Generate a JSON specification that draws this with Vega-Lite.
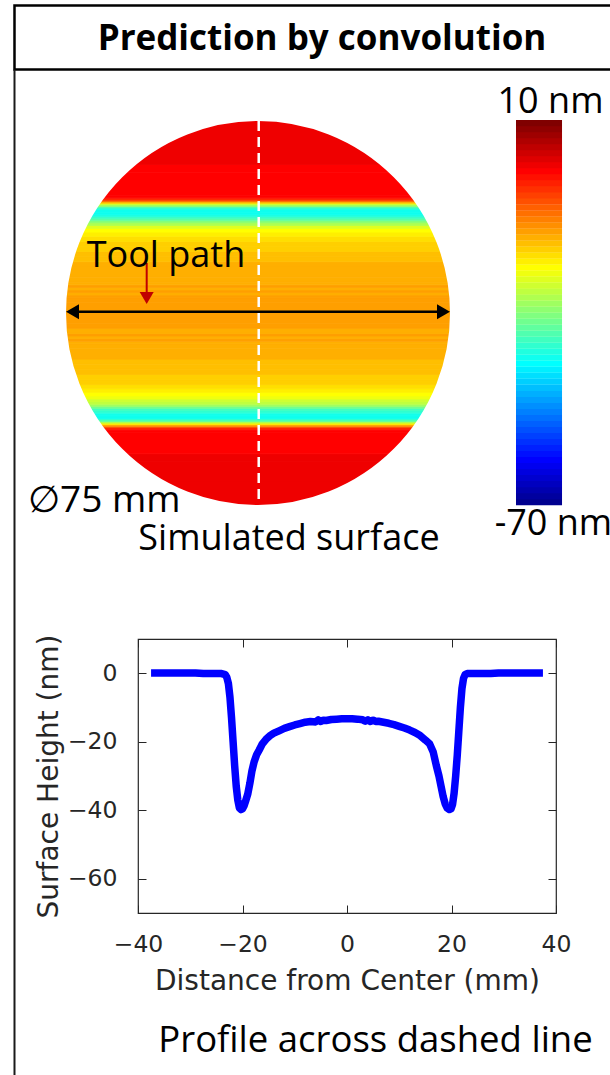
{
  "$schema": "https://vega.github.io/schema/vega-lite/v6.json",
  "autosize": {"type": "none"},
  "width": 418,
  "height": 274,
  "padding": {"left": 138, "top": 639, "right": 54, "bottom": 162},
  "background": "white",
  "config": {
    "view": {"stroke": "#262626", "strokeWidth": 1.2},
    "axis": {"grid": false}
  },
  "data": {"values": [{}]},
  "datasets": {
    "profile": [
      {"d": -37.5, "h": 0.1}, {"d": -33, "h": 0.1}, {"d": -29, "h": 0.1}, {"d": -27.5, "h": -0.1},
      {"d": -24, "h": -0.1}, {"d": -23.3, "h": -0.4}, {"d": -23.0, "h": -1.2}, {"d": -22.7, "h": -3},
      {"d": -22.4, "h": -7}, {"d": -22.1, "h": -13}, {"d": -21.8, "h": -20}, {"d": -21.5, "h": -27},
      {"d": -21.2, "h": -33}, {"d": -20.9, "h": -37}, {"d": -20.6, "h": -39.3}, {"d": -20.3, "h": -39.8},
      {"d": -20.0, "h": -39.6}, {"d": -19.7, "h": -38.7}, {"d": -19.4, "h": -37.3}, {"d": -19.0, "h": -35.3},
      {"d": -18.6, "h": -32.2}, {"d": -18.2, "h": -28.6}, {"d": -17.8, "h": -26}, {"d": -17.3, "h": -23.8},
      {"d": -16.8, "h": -22.4}, {"d": -16.2, "h": -20.6}, {"d": -15.5, "h": -19.3}, {"d": -14.8, "h": -18.3},
      {"d": -14, "h": -17.5}, {"d": -13, "h": -16.8}, {"d": -12, "h": -16.1}, {"d": -11, "h": -15.6},
      {"d": -10, "h": -15.1}, {"d": -9, "h": -14.7}, {"d": -8, "h": -14.3}, {"d": -7, "h": -14.1},
      {"d": -6, "h": -14.2}, {"d": -5.5, "h": -13.6}, {"d": -5, "h": -14.1}, {"d": -4.5, "h": -13.7},
      {"d": -4, "h": -13.8}, {"d": -3, "h": -13.5}, {"d": -2, "h": -13.4}, {"d": -1, "h": -13.3},
      {"d": 0, "h": -13.3}, {"d": 1, "h": -13.3}, {"d": 2, "h": -13.4}, {"d": 3, "h": -13.6},
      {"d": 3.5, "h": -14.0}, {"d": 4, "h": -13.6}, {"d": 4.5, "h": -14.1}, {"d": 5, "h": -13.7},
      {"d": 5.5, "h": -14.1}, {"d": 6, "h": -14.0}, {"d": 7, "h": -14.3}, {"d": 8, "h": -14.6},
      {"d": 9, "h": -15.0}, {"d": 10, "h": -15.5}, {"d": 11, "h": -16.0}, {"d": 12, "h": -16.6},
      {"d": 13, "h": -17.3}, {"d": 14, "h": -18.2}, {"d": 15, "h": -19.5}, {"d": 15.8, "h": -20.6},
      {"d": 16.5, "h": -23}, {"d": 17.1, "h": -27}, {"d": 17.6, "h": -30}, {"d": 18.0, "h": -33},
      {"d": 18.4, "h": -36}, {"d": 18.8, "h": -38.2}, {"d": 19.2, "h": -39.4}, {"d": 19.6, "h": -39.8},
      {"d": 19.9, "h": -39.6}, {"d": 20.2, "h": -38.3}, {"d": 20.5, "h": -35}, {"d": 20.8, "h": -30},
      {"d": 21.1, "h": -24}, {"d": 21.4, "h": -17}, {"d": 21.7, "h": -10}, {"d": 22.0, "h": -4.5},
      {"d": 22.3, "h": -1.5}, {"d": 22.6, "h": -0.4}, {"d": 23.0, "h": -0.1}, {"d": 27.5, "h": -0.1},
      {"d": 29, "h": 0.1}, {"d": 33, "h": 0.1}, {"d": 37.5, "h": 0.1}
    ],
    "levels": [
      {"level": -69.375}, {"level": -68.125}, {"level": -66.875}, {"level": -65.625},
      {"level": -64.375}, {"level": -63.125}, {"level": -61.875}, {"level": -60.625},
      {"level": -59.375}, {"level": -58.125}, {"level": -56.875}, {"level": -55.625},
      {"level": -54.375}, {"level": -53.125}, {"level": -51.875}, {"level": -50.625},
      {"level": -49.375}, {"level": -48.125}, {"level": -46.875}, {"level": -45.625},
      {"level": -44.375}, {"level": -43.125}, {"level": -41.875}, {"level": -40.625},
      {"level": -39.375}, {"level": -38.125}, {"level": -36.875}, {"level": -35.625},
      {"level": -34.375}, {"level": -33.125}, {"level": -31.875}, {"level": -30.625},
      {"level": -29.375}, {"level": -28.125}, {"level": -26.875}, {"level": -25.625},
      {"level": -24.375}, {"level": -23.125}, {"level": -21.875}, {"level": -20.625},
      {"level": -19.375}, {"level": -18.125}, {"level": -16.875}, {"level": -15.625},
      {"level": -14.375}, {"level": -13.125}, {"level": -11.875}, {"level": -10.625},
      {"level": -9.375}, {"level": -8.125}, {"level": -6.875}, {"level": -5.625},
      {"level": -4.375}, {"level": -3.125}, {"level": -1.875}, {"level": -0.625},
      {"level": 0.625}, {"level": 1.875}, {"level": 3.125}, {"level": 4.375},
      {"level": 5.625}, {"level": 6.875}, {"level": 8.125}, {"level": 9.375}
    ]
  },
  "resolve": {"scale": {"x": "independent", "y": "independent"}},
  "layer": [
    {
      "resolve": {"axis": {"x": "independent", "y": "independent"}},
      "layer": [
        {
          "data": {"name": "profile"},
          "mark": {"type": "line", "color": "#0000FF", "strokeWidth": 7.5, "strokeJoin": "round", "strokeCap": "butt"},
          "encoding": {
            "x": {
              "field": "d", "type": "quantitative",
              "scale": {"domain": [-40, 40], "nice": false, "zero": false},
              "axis": {
                "orient": "bottom", "values": [-40, -20, 0, 20, 40], "labelFlush": false,
                "domain": false, "tickSize": -8, "tickColor": "#262626", "tickWidth": 1,
                "labelPadding": 27, "labelFont": "DejaVu Sans", "labelFontSize": 23.5, "labelColor": "#262626",
                "title": "Distance from Center (mm)", "titleFont": "DejaVu Sans", "titleFontSize": 28,
                "titleFontWeight": "normal", "titleColor": "#262626", "titlePadding": 12
              }
            },
            "y": {
              "field": "h", "type": "quantitative",
              "scale": {"domain": [-70, 10], "nice": false, "zero": false},
              "axis": {
                "orient": "left", "values": [-60, -40, -20, 0], "labelFlush": false,
                "domain": false, "tickSize": -8, "tickColor": "#262626", "tickWidth": 1,
                "labelPadding": 29, "labelFont": "DejaVu Sans", "labelFontSize": 23.5, "labelColor": "#262626",
                "title": "Surface Height (nm)", "titleFont": "DejaVu Sans", "titleFontSize": 28,
                "titleFontWeight": "normal", "titleColor": "#262626", "titlePadding": 4
              }
            }
          }
        },
        {
          "data": {"name": "profile"},
          "mark": {"type": "point", "opacity": 0},
          "encoding": {
            "x": {
              "field": "d", "type": "quantitative",
              "scale": {"domain": [-40, 40], "nice": false, "zero": false},
              "axis": {"orient": "top", "values": [-40, -20, 0, 20, 40], "labels": false, "domain": false,
                       "tickSize": -8, "tickColor": "#262626", "tickWidth": 1, "title": null}
            },
            "y": {
              "field": "h", "type": "quantitative",
              "scale": {"domain": [-70, 10], "nice": false, "zero": false},
              "axis": {"orient": "right", "values": [-60, -40, -20, 0], "labels": false, "domain": false,
                       "tickSize": -8, "tickColor": "#262626", "tickWidth": 1, "title": null}
            }
          }
        }
      ]
    },
    {
      "resolve": {"scale": {"y": "independent"}},
      "layer": [
        {
          "layer": [
            {
              "data": {"name": "profile"},
              "transform": [
                {"window": [{"op": "lead", "field": "d", "as": "d_next"}], "sort": [{"field": "d", "order": "ascending"}]},
                {"filter": "isValid(datum.d_next)"}
              ],
              "mark": {"type": "rect", "strokeWidth": 0.8},
              "encoding": {
                "x": {"datum": -37.5, "type": "quantitative", "scale": {"domain": [-23.4375, 58.203], "nice": false, "zero": false}, "axis": null},
                "x2": {"datum": 37.5},
                "y": {"field": "d", "type": "quantitative", "scale": {"domain": [-117.1875, -63.672], "nice": false, "zero": false}, "axis": null},
                "y2": {"field": "d_next"},
                "color": {
                  "field": "h", "type": "quantitative", "legend": null,
                  "scale": {"type": "quantize", "domain": [-70, 10], "nice": false,
                    "range": ["#00008F","#00009F","#0000AF","#0000BF","#0000CF","#0000DF","#0000EF","#0000FF",
                              "#0010FF","#0020FF","#0030FF","#0040FF","#0050FF","#0060FF","#0070FF","#0080FF",
                              "#008FFF","#009FFF","#00AFFF","#00BFFF","#00CFFF","#00DFFF","#00EFFF","#00FFFF",
                              "#10FFEF","#20FFDF","#30FFCF","#40FFBF","#50FFAF","#60FF9F","#70FF8F","#80FF80",
                              "#8FFF70","#9FFF60","#AFFF50","#BFFF40","#CFFF30","#DFFF20","#EFFF10","#FFFF00",
                              "#FFEF00","#FFDF00","#FFCF00","#FFBF00","#FFAF00","#FF9F00","#FF8F00","#FF8000",
                              "#FF7000","#FF6000","#FF5000","#FF4000","#FF3000","#FF2000","#FF1000","#FF0000",
                              "#EF0000","#DF0000","#CF0000","#BF0000","#AF0000","#9F0000","#8F0000","#800000"]}
                },
                "stroke": {
                  "field": "h", "type": "quantitative", "legend": null,
                  "scale": {"type": "quantize", "domain": [-70, 10], "nice": false,
                    "range": ["#00008F","#00009F","#0000AF","#0000BF","#0000CF","#0000DF","#0000EF","#0000FF",
                              "#0010FF","#0020FF","#0030FF","#0040FF","#0050FF","#0060FF","#0070FF","#0080FF",
                              "#008FFF","#009FFF","#00AFFF","#00BFFF","#00CFFF","#00DFFF","#00EFFF","#00FFFF",
                              "#10FFEF","#20FFDF","#30FFCF","#40FFBF","#50FFAF","#60FF9F","#70FF8F","#80FF80",
                              "#8FFF70","#9FFF60","#AFFF50","#BFFF40","#CFFF30","#DFFF20","#EFFF10","#FFFF00",
                              "#FFEF00","#FFDF00","#FFCF00","#FFBF00","#FFAF00","#FF9F00","#FF8F00","#FF8000",
                              "#FF7000","#FF6000","#FF5000","#FF4000","#FF3000","#FF2000","#FF1000","#FF0000",
                              "#EF0000","#DF0000","#CF0000","#BF0000","#AF0000","#9F0000","#8F0000","#800000"]}
                }
              }
            },
            {
              "mark": {"type": "point", "shape": "circle", "filled": false, "stroke": "white", "strokeWidth": 84, "size": 219024, "opacity": 1, "strokeOpacity": 1},
              "encoding": {
                "x": {"datum": 0, "type": "quantitative", "scale": {"domain": [-23.4375, 58.203], "nice": false, "zero": false}, "axis": null},
                "y": {"datum": 0, "type": "quantitative", "scale": {"domain": [-117.1875, -63.672], "nice": false, "zero": false}, "axis": null}
              }
            },
            {
              "mark": {"type": "rule", "color": "white", "strokeWidth": 2.5, "strokeDash": [10, 6]},
              "encoding": {
                "x": {"datum": 0.14, "type": "quantitative", "scale": {"domain": [-23.4375, 58.203], "nice": false, "zero": false}, "axis": null},
                "y": {"datum": 37.5, "type": "quantitative", "scale": {"domain": [-117.1875, -63.672], "nice": false, "zero": false}, "axis": null},
                "y2": {"datum": -37.5}
              }
            },
            {
              "mark": {"type": "rule", "color": "black", "strokeWidth": 2.5},
              "encoding": {
                "x": {"datum": -36.2, "type": "quantitative", "scale": {"domain": [-23.4375, 58.203], "nice": false, "zero": false}, "axis": null},
                "x2": {"datum": 36.2},
                "y": {"datum": 0.25, "type": "quantitative", "scale": {"domain": [-117.1875, -63.672], "nice": false, "zero": false}, "axis": null}
              }
            },
            {
              "mark": {"type": "point", "shape": "triangle-left", "filled": true, "color": "black", "size": 225, "opacity": 1},
              "encoding": {
                "x": {"datum": -36.23, "type": "quantitative", "scale": {"domain": [-23.4375, 58.203], "nice": false, "zero": false}, "axis": null},
                "y": {"datum": 0.25, "type": "quantitative", "scale": {"domain": [-117.1875, -63.672], "nice": false, "zero": false}, "axis": null}
              }
            },
            {
              "mark": {"type": "point", "shape": "triangle-right", "filled": true, "color": "black", "size": 225, "opacity": 1},
              "encoding": {
                "x": {"datum": 36.23, "type": "quantitative", "scale": {"domain": [-23.4375, 58.203], "nice": false, "zero": false}, "axis": null},
                "y": {"datum": 0.25, "type": "quantitative", "scale": {"domain": [-117.1875, -63.672], "nice": false, "zero": false}, "axis": null}
              }
            },
            {
              "mark": {"type": "rule", "color": "#C00000", "strokeWidth": 2},
              "encoding": {
                "x": {"datum": -21.74, "type": "quantitative", "scale": {"domain": [-23.4375, 58.203], "nice": false, "zero": false}, "axis": null},
                "y": {"datum": 9.77, "type": "quantitative", "scale": {"domain": [-117.1875, -63.672], "nice": false, "zero": false}, "axis": null},
                "y2": {"datum": 3.2}
              }
            },
            {
              "mark": {"type": "point", "shape": "triangle-down", "filled": true, "color": "#C00000", "size": 196, "opacity": 1},
              "encoding": {
                "x": {"datum": -21.74, "type": "quantitative", "scale": {"domain": [-23.4375, 58.203], "nice": false, "zero": false}, "axis": null},
                "y": {"datum": 2.93, "type": "quantitative", "scale": {"domain": [-117.1875, -63.672], "nice": false, "zero": false}, "axis": null}
              }
            },
            {
              "mark": {"type": "text", "text": "Tool path", "font": "Open Sans", "fontSize": 36, "align": "left", "baseline": "alphabetic", "color": "black"},
              "encoding": {
                "x": {"datum": -33.46, "type": "quantitative", "scale": {"domain": [-23.4375, 58.203], "nice": false, "zero": false}, "axis": null},
                "y": {"datum": 8.9, "type": "quantitative", "scale": {"domain": [-117.1875, -63.672], "nice": false, "zero": false}, "axis": null}
              }
            },
            {
              "mark": {"type": "text", "text": "∅75 mm", "font": "Open Sans", "fontSize": 37, "align": "left", "baseline": "alphabetic", "color": "black"},
              "encoding": {
                "x": {"datum": -44.92, "type": "quantitative", "scale": {"domain": [-23.4375, 58.203], "nice": false, "zero": false}, "axis": null},
                "y": {"datum": -38.8, "type": "quantitative", "scale": {"domain": [-117.1875, -63.672], "nice": false, "zero": false}, "axis": null}
              }
            },
            {
              "mark": {"type": "text", "text": "Simulated surface", "font": "Open Sans", "fontSize": 36, "align": "center", "baseline": "alphabetic", "color": "black"},
              "encoding": {
                "x": {"datum": 6.05, "type": "quantitative", "scale": {"domain": [-23.4375, 58.203], "nice": false, "zero": false}, "axis": null},
                "y": {"datum": -46.3, "type": "quantitative", "scale": {"domain": [-117.1875, -63.672], "nice": false, "zero": false}, "axis": null}
              }
            },
            {
              "mark": {"type": "text", "text": "10 nm", "font": "Open Sans", "fontSize": 36, "align": "center", "baseline": "alphabetic", "color": "black"},
              "encoding": {
                "x": {"datum": 57.13, "type": "quantitative", "scale": {"domain": [-23.4375, 58.203], "nice": false, "zero": false}, "axis": null},
                "y": {"datum": 39.06, "type": "quantitative", "scale": {"domain": [-117.1875, -63.672], "nice": false, "zero": false}, "axis": null}
              }
            },
            {
              "mark": {"type": "text", "text": "-70 nm", "font": "Open Sans", "fontSize": 36, "align": "center", "baseline": "alphabetic", "color": "black"},
              "encoding": {
                "x": {"datum": 57.7, "type": "quantitative", "scale": {"domain": [-23.4375, 58.203], "nice": false, "zero": false}, "axis": null},
                "y": {"datum": -43.36, "type": "quantitative", "scale": {"domain": [-117.1875, -63.672], "nice": false, "zero": false}, "axis": null}
              }
            },
            {
              "mark": {"type": "text", "text": "Profile across dashed line", "font": "Open Sans", "fontSize": 36.5, "align": "center", "baseline": "alphabetic", "color": "black"},
              "encoding": {
                "x": {"datum": 22.95, "type": "quantitative", "scale": {"domain": [-23.4375, 58.203], "nice": false, "zero": false}, "axis": null},
                "y": {"datum": -144.3, "type": "quantitative", "scale": {"domain": [-117.1875, -63.672], "nice": false, "zero": false}, "axis": null}
              }
            },
            {
              "mark": {"type": "rect", "filled": false, "stroke": "black", "strokeWidth": 2.5},
              "encoding": {
                "x": {"datum": -47.56, "type": "quantitative", "scale": {"domain": [-23.4375, 58.203], "nice": false, "zero": false}, "axis": null},
                "x2": {"datum": 86.33},
                "y": {"datum": 60.06, "type": "quantitative", "scale": {"domain": [-117.1875, -63.672], "nice": false, "zero": false}, "axis": null},
                "y2": {"datum": 47.56}
              }
            },
            {
              "mark": {"type": "text", "text": "Prediction by convolution", "font": "Open Sans", "fontWeight": "bold", "fontSize": 35, "align": "center", "baseline": "alphabetic", "color": "black"},
              "encoding": {
                "x": {"datum": 12.5, "type": "quantitative", "scale": {"domain": [-23.4375, 58.203], "nice": false, "zero": false}, "axis": null},
                "y": {"datum": 51.4, "type": "quantitative", "scale": {"domain": [-117.1875, -63.672], "nice": false, "zero": false}, "axis": null}
              }
            },
            {
              "mark": {"type": "rule", "color": "#1a1a1a", "strokeWidth": 2},
              "encoding": {
                "x": {"datum": -47.56, "type": "quantitative", "scale": {"domain": [-23.4375, 58.203], "nice": false, "zero": false}, "axis": null},
                "y": {"datum": 47.56, "type": "quantitative", "scale": {"domain": [-117.1875, -63.672], "nice": false, "zero": false}, "axis": null},
                "y2": {"datum": -150}
              }
            }
          ]
        },
        {
          "data": {"name": "levels"},
          "mark": {"type": "rule", "strokeWidth": 6.3, "strokeCap": "butt"},
          "encoding": {
            "x": {"datum": 50.39, "type": "quantitative", "scale": {"domain": [-23.4375, 58.203], "nice": false, "zero": false}, "axis": null},
            "x2": {"datum": 59.38},
            "y": {"field": "level", "type": "quantitative", "scale": {"domain": [-154.78, -97.84], "nice": false, "zero": false}, "axis": null},
            "color": {
              "field": "level", "type": "quantitative", "legend": null,
              "scale": {"type": "quantize", "domain": [-70, 10], "nice": false,
                "range": ["#00008F","#00009F","#0000AF","#0000BF","#0000CF","#0000DF","#0000EF","#0000FF",
                          "#0010FF","#0020FF","#0030FF","#0040FF","#0050FF","#0060FF","#0070FF","#0080FF",
                          "#008FFF","#009FFF","#00AFFF","#00BFFF","#00CFFF","#00DFFF","#00EFFF","#00FFFF",
                          "#10FFEF","#20FFDF","#30FFCF","#40FFBF","#50FFAF","#60FF9F","#70FF8F","#80FF80",
                          "#8FFF70","#9FFF60","#AFFF50","#BFFF40","#CFFF30","#DFFF20","#EFFF10","#FFFF00",
                          "#FFEF00","#FFDF00","#FFCF00","#FFBF00","#FFAF00","#FF9F00","#FF8F00","#FF8000",
                          "#FF7000","#FF6000","#FF5000","#FF4000","#FF3000","#FF2000","#FF1000","#FF0000",
                          "#EF0000","#DF0000","#CF0000","#BF0000","#AF0000","#9F0000","#8F0000","#800000"]}
            }
          }
        }
      ]
    }
  ]
}
